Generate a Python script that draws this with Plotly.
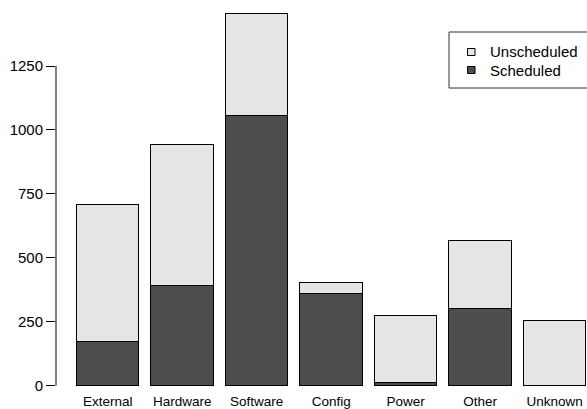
import plotly.graph_objects as go

# Outage counts by cause, split into scheduled / unscheduled
causes = ["External", "Hardware", "Software", "Config", "Power", "Other", "Unknown"]
scheduled = [171, 393, 1056, 359, 11, 303, 0]
unscheduled_total = [707, 941, 1456, 404, 272, 569, 255]
unscheduled = [t - s for t, s in zip(unscheduled_total, scheduled)]

y_ticks = [0, 250, 500, 750, 1000, 1250]

DARK = "#4d4d4d"
LIGHT = "#e5e5e5"
FONT = "Liberation Sans, Arial, Helvetica, sans-serif"

W, H = 587, 409
ML, MB = 56, 19
PW, PH = W - ML, H - MB


def px_x(p):
    """Pixel column -> paper x."""
    return (p - ML) / PW


def px_y(p):
    """Pixel row -> paper y."""
    return (PH - p) / PH


fig = go.Figure()

fig.add_trace(go.Bar(
    x=causes, y=scheduled, name="Scheduled", showlegend=False,
    marker=dict(color=DARK, line=dict(color="black", width=1)),
))
fig.add_trace(go.Bar(
    x=causes, y=unscheduled, name="Unscheduled", showlegend=False,
    marker=dict(color=LIGHT, line=dict(color="black", width=1)),
))

# Left axis line spans only the labelled tick range
fig.add_shape(type="line", xref="paper", yref="y",
              x0=0, x1=0, y0=y_ticks[0], y1=y_ticks[-1],
              line=dict(color="black", width=1))

# Boxed key in the top-right corner
fig.add_shape(type="rect", xref="paper", yref="paper",
              x0=px_x(449), x1=px_x(592), y0=px_y(88), y1=px_y(32),
              line=dict(color="#333333", width=1), fillcolor="white")
legend_items = [("Unscheduled", LIGHT, 52), ("Scheduled", DARK, 70)]
for label, col, cy in legend_items:
    fig.add_shape(type="rect", xref="paper", yref="paper",
                  x0=px_x(467.5), x1=px_x(475), y0=px_y(cy + 3.5), y1=px_y(cy - 3.5),
                  line=dict(color="black", width=1), fillcolor=col)
    fig.add_annotation(xref="paper", yref="paper", x=px_x(488), y=px_y(cy),
                       xanchor="left", yanchor="middle", showarrow=False,
                       text=label, font=dict(size=15, family=FONT, color="black"))

fig.update_layout(
    width=W, height=H,
    margin=dict(l=ML, r=0, t=0, b=MB, autoexpand=False),
    paper_bgcolor="white", plot_bgcolor="white",
    barmode="stack", bargap=0.16,
    showlegend=False,
    font=dict(family=FONT, color="black"),
    xaxis=dict(
        range=[-0.694, 6.434], showgrid=False, zeroline=False,
        showline=False, ticks="", tickfont=dict(size=13.5),
        ticklabelstandoff=1, automargin=False, fixedrange=True,
    ),
    yaxis=dict(
        range=[-17.6, 1508.2], showgrid=False, zeroline=False,
        showline=False, ticks="outside", ticklen=9, tickwidth=1,
        tickcolor="black", tickvals=y_ticks,
        ticktext=[str(v) for v in y_ticks],
        tickfont=dict(size=15), automargin=False,
    ),
)

fig.write_html("out.html")
